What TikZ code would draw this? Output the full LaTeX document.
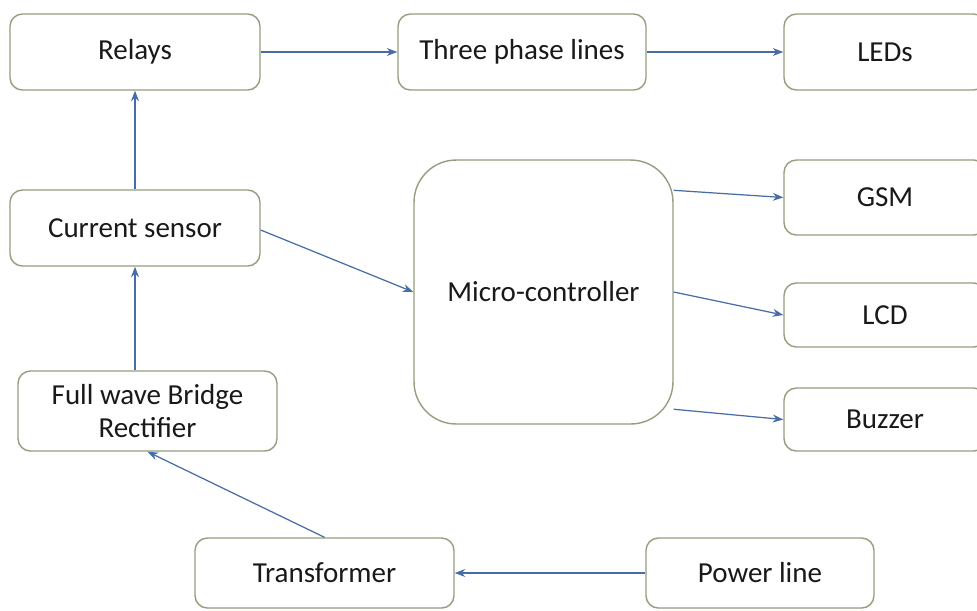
\documentclass[tikz,border=0pt]{standalone}
\usepackage{fontspec}
\setmainfont{Carlito}
\usepackage{tikz}
\usetikzlibrary{arrows.meta}
\definecolor{boxline}{RGB}{150,158,128}
\definecolor{arrowblue}{RGB}{72,108,165}
\tikzset{
	blok/.style={draw=boxline,line width=0.8pt,rounded corners=7pt,fill=white,
		align=center,inner sep=0pt,font=\fontsize{16.5}{19}\selectfont,text=black!90},
	pijl/.style={draw=arrowblue,line width=0.7pt,-{Stealth[length=6pt,width=4.5pt]}}
}
\begin{document}
\begin{tikzpicture}[x=0.02cm,y=-0.02cm]
	\clip (0,0) rectangle (977,610);
	\useasboundingbox (0,0) rectangle (977,610);
	\fill[white] (0,0) rectangle (977,610);
		\node[blok,minimum width=5cm,minimum height=1.52cm] (relays) at (135,52) {Relays};
		\node[blok,minimum width=4.96cm,minimum height=1.52cm] (lines) at (522,52) {Three phase lines};
		\node[blok,minimum width=4.04cm,minimum height=1.52cm] (leds) at (885,52) {LEDs};
		\node[blok,minimum width=5cm,minimum height=1.52cm] (sensor) at (135,228) {Current sensor};
		\node[blok,minimum width=5.18cm,minimum height=5.28cm,rounded corners=24pt] (micro) at (543.5,292) {Micro-controller};
		\node[blok,minimum width=4.04cm,minimum height=1.5cm] (gsm) at (885,197.5) {GSM};
		\node[blok,minimum width=4.04cm,minimum height=1.28cm] (lcd) at (885,315) {LCD};
		\node[blok,minimum width=4.04cm,minimum height=1.26cm] (buzzer) at (885,419.5) {Buzzer};
		\node[blok,minimum width=5.18cm,minimum height=1.6cm] (rectifier) at (147.5,411) {Full wave Bridge\\Rectifier};
		\node[blok,minimum width=5.18cm,minimum height=1.4cm] (transformer) at (324.5,573) {Transformer};
		\node[blok,minimum width=4.56cm,minimum height=1.4cm] (power) at (760,573) {Power line};
		% connectors
		\draw[pijl] (relays.east) -- (lines.west);
		\draw[pijl] (lines.east) -- (leds.west);
		\draw[pijl] (sensor.north) -- (relays.south);
		\draw[pijl] (rectifier.north -| sensor.south) -- (sensor.south);
		\draw[pijl] ([yshift=-0.04cm]sensor.east) -- (micro.west);
		\draw[pijl] (micro.38) -- (gsm.west);
		\draw[pijl] (micro.east) -- (lcd.west);
		\draw[pijl] (micro.-42) -- (buzzer.west);
		\draw[pijl] (transformer.north) -- (rectifier.south);
		\draw[pijl] (power.west) -- (transformer.east);
\end{tikzpicture}
\end{document}
